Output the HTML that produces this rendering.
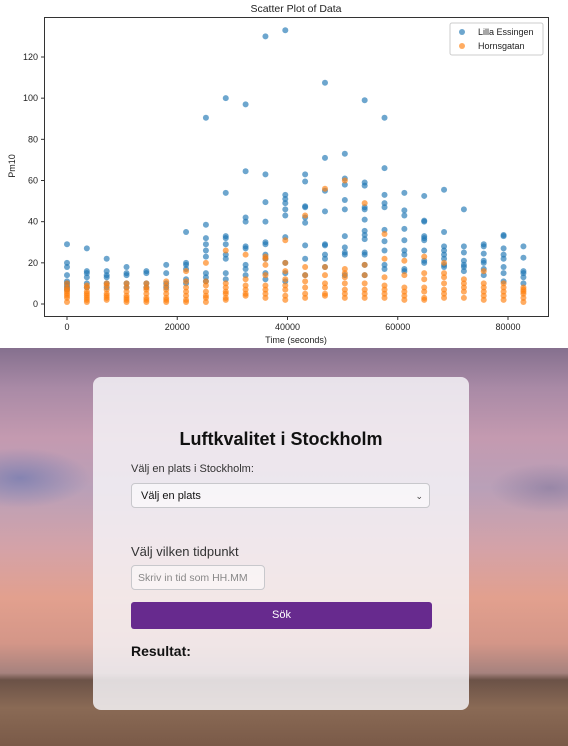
<!DOCTYPE html>
<html><head><meta charset="utf-8">
<style>
body{margin:0;width:568px;height:746px;overflow:hidden;font-family:"Liberation Sans",sans-serif;background:#fff;position:relative}
#chart{position:absolute;left:0;top:0}
#bg{position:absolute;left:0;top:348px;width:568px;height:398px;
background:
linear-gradient(180deg,rgba(0,0,0,0) 0,rgba(0,0,0,0) 325px,#6b5247 332px,#8a6a55 360px,#7a5a48 398px),
radial-gradient(ellipse 70px 30px at 20px 130px,rgba(110,120,175,.7),rgba(110,120,175,0)),
radial-gradient(ellipse 60px 25px at 550px 140px,rgba(120,110,150,.5),rgba(120,110,150,0)),
linear-gradient(180deg,#85708e 0,#a98aa6 40px,#c49ab0 90px,#b9a0b8 140px,#d4a2a8 200px,#e2a08e 250px,#d49688 295px,#a6827e 325px);}
#card{position:absolute;left:93px;top:377px;width:376px;height:333px;background:rgba(246,244,248,.84);border-radius:8px;}
.t{position:absolute;color:#111}
</style></head><body>
<svg id="chart" width="568" height="348"></svg>
<div id="bg"></div>
<div id="card"></div>
<div class="t" style="left:93px;width:376px;top:429px;text-align:center;font-weight:bold;font-size:18px">Luftkvalitet i Stockholm</div>
<div class="t" style="left:131px;top:463px;font-size:11px;color:#333">Välj en plats i Stockholm:</div>
<div style="position:absolute;left:131px;top:483px;width:299px;height:25px;border:1px solid #c8c8cc;border-radius:4px;background:rgba(255,255,255,.6);font-size:11px;line-height:25px;box-sizing:border-box;padding-left:9px;color:#111">Välj en plats<span style="position:absolute;right:6px;top:0;font-size:9px;color:#444">&#8964;</span></div>
<div class="t" style="left:131px;top:544px;font-size:13px;color:#333">Välj vilken tidpunkt</div>
<div style="position:absolute;left:131px;top:565px;width:134px;height:25px;border:1px solid #c8c8cc;border-radius:4px;background:rgba(255,255,255,.5);font-size:10.5px;line-height:25px;box-sizing:border-box;padding-left:6px;color:#888">Skriv in tid som HH.MM</div>
<div style="position:absolute;left:131px;top:602px;width:301px;height:27px;border-radius:3px;background:#672a8e;color:#fff;font-size:11px;text-align:center;line-height:27px">Sök</div>
<div class="t" style="left:131px;top:643px;font-weight:bold;font-size:14px">Resultat:</div>
<script>
const hours=[0,1,2,3,4,5,6,7,8,9,10,11,12,13,14,15,16,17,18,19,20,21,22,23];
const blueVals=[
[29,20,18,14,11,10,9,8,7],[27,16,15,13,10,8],[22,16,14,13,10,8],[18,15,14,10,8],[16,15,10,8],[19,15,10,8],
[35,20,19,17,12,10],[90.5,38.5,32,29,26,23,15,13,11],[100,54,33,32,29,24,22,15,12],[97,64.5,42,40,28,27,19,17,14],
[130,63,49.5,40,30,29,24,22,15,12],[133,53,51,49,46,43,32.5,20,15,11],[63,59.5,47.5,47,42,39.5,28.5,22,14],
[107.5,71,55,45,29,28.5,24,22,18],[73,61,58,50.5,46,33,27.5,25,24,14],[99,59,57.5,47,46,41,35.5,33.5,31.5,25,24,19,14],
[90.5,66,53,49,47,36,30.5,26,19,17],[54,45.5,43,36.5,31,26,24,17,16],[52.5,40.5,40,33,32,31,26,21,20],
[55.5,35,28,26,24,22,19,18],[46,28,25,21,19,18,16],[29,28,24.5,21,20,17,14],[33.5,33,27,24,22,18,15,11],[28,22.5,16,15,13,10]];
const orangeVals=[
[10,8,7,6,5,4,3,1],[9,8,6,5,4,3,2,1],[10,9,7,5,4,3,2],[10,8,6,4,3,2,1],[10,8,7,5,3,2,1],[11,9,7,5,3,2,1],
[16,11,8,6,4,2,1],[20,11,9,6,4,3,1],[26,10,8,6,5,3,2],[24,12,9,7,5,4],[23,22,19,14,9,7,5,3],[31,20,16,12,9,7,4,2],
[43,18,14,11,8,5,3],[56,18,14,10,8,5,4],[60,17,15,13,10,7,5,3],[49,19,14,10,7,5,3],[34,22,13,9,7,5,3],
[21,14,8,6,4,2],[23,15,12,8,6,3,2],[20,15,13,10,7,5,3],[12,10,8,6,3],[16,10,8,6,4,2],[10,8,6,4,2],[8,7,6,5,3,1]];
const xTicks=[0,20000,40000,60000,80000];
const yTicks=[0,20,40,60,80,100,120];
const NS="http://www.w3.org/2000/svg";
const svg=document.getElementById('chart');
const X=v=>67+v*(441/80000);
const Y=v=>304-v*(247/120);
function mk(tag,attrs,parent){const e=document.createElementNS(NS,tag);for(const k in attrs)e.setAttribute(k,attrs[k]);(parent||svg).appendChild(e);return e;}
const title=mk('text',{x:296,y:12,'text-anchor':'middle','font-size':'10.5','fill':'#222','font-family':'Liberation Sans'});title.textContent='Scatter Plot of Data';


const frame=mk('rect',{x:44.5,y:17.5,width:504,height:299,fill:'none',stroke:'#333','stroke-width':1});


xTicks.forEach(t=>{mk('line',{x1:X(t),x2:X(t),y1:316,y2:320,stroke:'#333'});
const tx=mk('text',{x:X(t),y:330,'text-anchor':'middle','font-size':'9','fill':'#222','font-family':'Liberation Sans'});tx.textContent=t;

});
yTicks.forEach(t=>{mk('line',{x1:41,x2:44,y1:Y(t),y2:Y(t),stroke:'#333'});
const tx=mk('text',{x:38,y:Y(t)+3,'text-anchor':'end','font-size':'9','fill':'#222','font-family':'Liberation Sans'});tx.textContent=t;

});
const xl=mk('text',{x:296,y:343,'text-anchor':'middle','font-size':'9','fill':'#222','font-family':'Liberation Sans'});xl.textContent='Time (seconds)';


const yl=mk('text',{x:0,y:0,'text-anchor':'middle','font-size':'9','fill':'#222','font-family':'Liberation Sans',transform:'translate(15,166) rotate(-90)'});yl.textContent='Pm10';


function series(vals,color,name){const g=mk('g',{});


hours.forEach((h,i)=>vals[i].forEach(v=>{const c=mk('circle',{cx:X(h*3600),cy:Y(v),r:3,fill:color,'fill-opacity':0.65},g);

}));}
series(blueVals,'#1f77b4','lilla-essingen-series');
series(orangeVals,'#ff7f0e','hornsgatan-series');
const lg=mk('g',{});


mk('rect',{x:450,y:23,width:93,height:32,fill:'#fff','fill-opacity':0.85,stroke:'#ccc',rx:2},lg);
mk('circle',{cx:462,cy:32,r:3,fill:'#1f77b4','fill-opacity':0.65},lg);
mk('circle',{cx:462,cy:46,r:3,fill:'#ff7f0e','fill-opacity':0.65},lg);
const l1=mk('text',{x:478,y:35,'font-size':'9','fill':'#222','font-family':'Liberation Sans'},lg);l1.textContent='Lilla Essingen';


const l2=mk('text',{x:478,y:49,'font-size':'9','fill':'#222','font-family':'Liberation Sans'},lg);l2.textContent='Hornsgatan';


</script>
</body></html>
